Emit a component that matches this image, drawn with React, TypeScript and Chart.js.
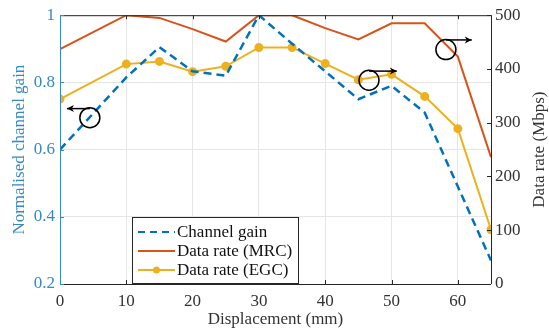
import React, { useEffect, useRef } from "react";
import { Chart, registerables } from "chart.js";
Chart.register(...registerables);

const displacement = [0, 10, 15, 20, 25, 30, 35, 40, 45, 50, 55, 60, 65];
const channelGain = [0.6, 0.815, 0.905, 0.833, 0.82, 1.0, 0.915, 0.833, 0.75, 0.79, 0.71, 0.49, 0.27];
const rateMRC = [437, 500, 495, 474, 451, 500, 500, 476, 455, 485, 485, 423, 236];
const rateEGC = [344, 409, 414, 395, 405, 440, 440, 410, 380, 390, 349, 289, 101];

const xTicks = [0, 10, 20, 30, 40, 50, 60];
const leftTicks = [0.2, 0.4, 0.6, 0.8, 1];
const rightTicks = [0, 100, 200, 300, 400, 500];

const legendLabels = ["Channel gain", "Data rate (MRC)", "Data rate (EGC)"];
const xTitle = "Displacement (mm)";
const leftTitle = "Normalised channel gain";
const rightTitle = "Data rate (Mbps)";

// annotation circles: [x(mm), y, axis, arrowTipX(mm), arrowY]
const circles = [
  { x: 4.5, y: 0.695, axis: "yL", tipX: 1.05, arrowY: 0.722 },
  { x: 46.6, y: 379, axis: "yR", tipX: 50.8, arrowY: 396 },
  { x: 58.2, y: 436, axis: "yR", tipX: 62.1, arrowY: 454 },
];

const BLUE = "#0072BD";
const BLUE_TXT = "#3589c4";
const RED = "#D95319";
const YEL = "#EDB120";
const DARK = "#262626";
const TXT = "#333333";
const FONT = "'Liberation Serif', 'Times New Roman', serif";
const FS = 17;

const decor = {
  id: "decor",
  afterDraw(chart: any) {
    const ctx = chart.ctx;
    const { left, right, top, bottom } = chart.chartArea;
    const xs = chart.scales.x;
    const yl = chart.scales.yL;
    const yr = chart.scales.yR;
    ctx.save();
    // box
    ctx.lineWidth = 1;
    ctx.strokeStyle = DARK;
    ctx.beginPath();
    ctx.moveTo(left, top + 0.5);
    ctx.lineTo(right, top + 0.5);
    ctx.moveTo(left, bottom + 0.5);
    ctx.lineTo(right, bottom + 0.5);
    ctx.moveTo(right + 0.5, top);
    ctx.lineTo(right + 0.5, bottom);
    ctx.stroke();
    // inward ticks
    ctx.beginPath();
    xTicks.forEach((t) => {
      const px = Math.round(xs.getPixelForValue(t)) + 0.5;
      ctx.moveTo(px, bottom);
      ctx.lineTo(px, bottom - 4);
      ctx.moveTo(px, top);
      ctx.lineTo(px, top + 4);
    });
    rightTicks.forEach((t) => {
      const py = Math.round(yr.getPixelForValue(t)) + 0.5;
      ctx.moveTo(right, py);
      ctx.lineTo(right - 4, py);
    });
    ctx.stroke();
    ctx.strokeStyle = BLUE_TXT;
    ctx.beginPath();
    ctx.moveTo(left + 0.5, top);
    ctx.lineTo(left + 0.5, bottom);
    leftTicks.forEach((t) => {
      const py = Math.round(yl.getPixelForValue(t)) + 0.5;
      ctx.moveTo(left, py);
      ctx.lineTo(left + 4, py);
    });
    ctx.stroke();

    // titles
    ctx.fillStyle = TXT;
    ctx.font = `${FS}px ${FONT}`;
    ctx.textAlign = "center";
    ctx.textBaseline = "middle";
    ctx.fillText(xTitle, (left + right) / 2, 320);
    ctx.save();
    ctx.translate(20, (top + bottom) / 2);
    ctx.rotate(-Math.PI / 2);
    ctx.fillStyle = BLUE_TXT;
    ctx.fillText(leftTitle, 0, 0);
    ctx.restore();
    ctx.save();
    ctx.translate(540, (top + bottom) / 2);
    ctx.rotate(-Math.PI / 2);
    ctx.fillStyle = TXT;
    ctx.fillText(rightTitle, 0, 0);
    ctx.restore();

    // circles and arrows
    ctx.strokeStyle = "#000";
    ctx.fillStyle = "#000";
    ctx.lineWidth = 1.5;
    circles.forEach((c) => {
      const sc = chart.scales[c.axis];
      const cx = xs.getPixelForValue(c.x);
      const cy = sc.getPixelForValue(c.y);
      const ay = sc.getPixelForValue(c.arrowY);
      const tx = xs.getPixelForValue(c.tipX);
      ctx.beginPath();
      ctx.arc(cx, cy, 10, 0, Math.PI * 2);
      ctx.stroke();
      ctx.beginPath();
      ctx.moveTo(cx, ay);
      ctx.lineTo(tx, ay);
      ctx.stroke();
      const dir = tx < cx ? -1 : 1;
      ctx.beginPath();
      ctx.moveTo(tx, ay);
      ctx.lineTo(tx - dir * 7, ay - 3.5);
      ctx.lineTo(tx - dir * 5, ay);
      ctx.lineTo(tx - dir * 7, ay + 3.5);
      ctx.closePath();
      ctx.fill();
    });

    // legend
    const bx = 132.5, by = 217.5, bw = 166, bh = 66;
    ctx.fillStyle = "#fff";
    ctx.fillRect(bx, by, bw, bh);
    ctx.strokeStyle = DARK;
    ctx.lineWidth = 1;
    ctx.strokeRect(bx, by, bw, bh);
    const rows = [232, 251, 270];
    const x0 = 138, x1 = 175;
    ctx.lineWidth = 2;
    ctx.strokeStyle = BLUE;
    ctx.setLineDash([7, 5]);
    ctx.beginPath();
    ctx.moveTo(x0, rows[0]);
    ctx.lineTo(x1, rows[0]);
    ctx.stroke();
    ctx.setLineDash([]);
    ctx.strokeStyle = RED;
    ctx.beginPath();
    ctx.moveTo(x0, rows[1]);
    ctx.lineTo(x1, rows[1]);
    ctx.stroke();
    ctx.strokeStyle = YEL;
    ctx.beginPath();
    ctx.moveTo(x0, rows[2]);
    ctx.lineTo(x1, rows[2]);
    ctx.stroke();
    ctx.fillStyle = YEL;
    ctx.beginPath();
    ctx.arc((x0 + x1) / 2, rows[2], 3.5, 0, Math.PI * 2);
    ctx.fill();
    ctx.fillStyle = "#111";
    ctx.font = `${FS}px ${FONT}`;
    ctx.textAlign = "left";
    legendLabels.forEach((l, i) => ctx.fillText(l, 177, rows[i] + 1));
    ctx.restore();
  },
};

export default function App() {
  const ref = useRef<HTMLCanvasElement>(null);
  useEffect(() => {
    const chart = new Chart(ref.current as HTMLCanvasElement, {
      type: "line",
      data: {
        datasets: [
          {
            label: legendLabels[0],
            data: displacement.map((x, i) => ({ x, y: channelGain[i] })),
            yAxisID: "yL",
            borderColor: BLUE,
            borderWidth: 2.5,
            borderDash: [8, 5],
            pointRadius: 0,
            fill: false,
          },
          {
            label: legendLabels[1],
            data: displacement.map((x, i) => ({ x, y: rateMRC[i] })),
            yAxisID: "yR",
            borderColor: RED,
            borderWidth: 2,
            pointRadius: 0,
            fill: false,
          },
          {
            label: legendLabels[2],
            data: displacement.map((x, i) => ({ x, y: rateEGC[i] })),
            yAxisID: "yR",
            borderColor: YEL,
            backgroundColor: YEL,
            borderWidth: 2,
            pointRadius: 3.5,
            pointBackgroundColor: YEL,
            pointBorderColor: YEL,
            fill: false,
          },
        ],
      },
      options: {
        animation: false,
        responsive: false,
        layout: { padding: { top: 11, left: 0, right: 0, bottom: 0 } },
        plugins: { legend: { display: false }, tooltip: { enabled: false } },
        scales: {
          x: {
            type: "linear",
            min: 0,
            max: 65,
            afterFit: (s: any) => { s.height = 48; },
            afterBuildTicks: (s: any) => { s.ticks = xTicks.map((v) => ({ value: v })); },
            grid: { color: "#e6e6e6", drawTicks: false },
            border: { display: false },
            ticks: { color: TXT, font: { family: FONT, size: FS }, padding: 7, maxRotation: 0 },
          },
          yL: {
            type: "linear",
            position: "left",
            min: 0.2,
            max: 1,
            afterFit: (s: any) => { s.width = 60; },
            afterBuildTicks: (s: any) => { s.ticks = leftTicks.map((v) => ({ value: v })); },
            grid: { color: "#e6e6e6", drawTicks: false },
            border: { display: false },
            ticks: {
              color: BLUE_TXT,
              font: { family: FONT, size: FS },
              padding: 5,
              callback: (v: any) => String(Math.round(v * 10) / 10),
            },
          },
          yR: {
            type: "linear",
            position: "right",
            min: 0,
            max: 500,
            afterFit: (s: any) => { s.width = 58; },
            afterBuildTicks: (s: any) => { s.ticks = rightTicks.map((v) => ({ value: v })); },
            grid: { drawOnChartArea: false, drawTicks: false },
            border: { display: false },
            ticks: { color: TXT, font: { family: FONT, size: FS }, padding: 4 },
          },
        },
      },
      plugins: [decor],
    });
    return () => chart.destroy();
  }, []);
  return (
    <div style={{ position: "absolute", left: 0, top: 0, width: 549, height: 332, background: "#fff" }}>
      <canvas ref={ref} width={549} height={332} />
    </div>
  );
}
